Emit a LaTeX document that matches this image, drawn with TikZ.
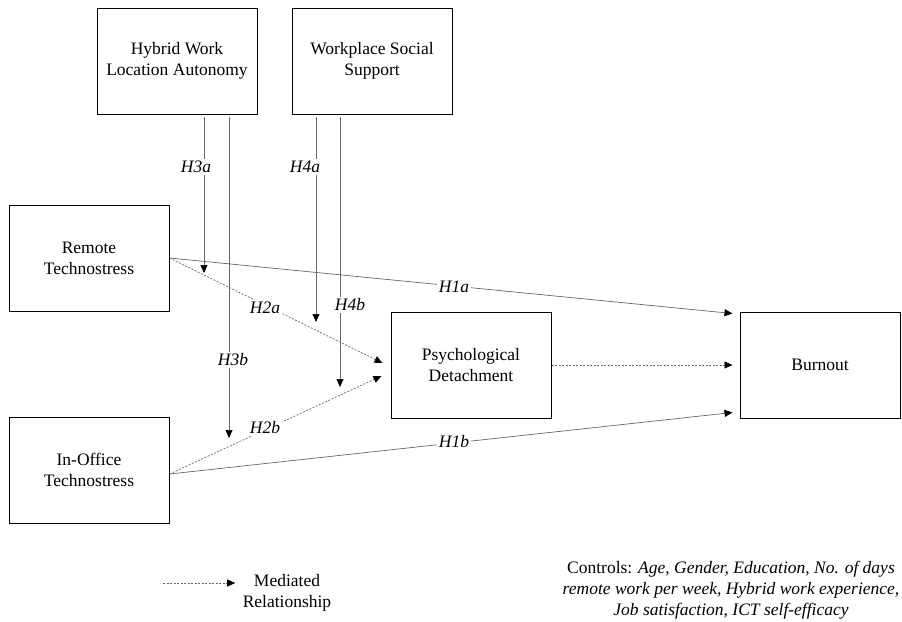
\documentclass[tikz,border=0pt]{standalone}
\usepackage{fontspec}
\setmainfont{Liberation Serif}
\usetikzlibrary{arrows.meta}
\begin{document}
\begin{tikzpicture}[x=1pt,y=-1pt,
  box/.style={draw, line width=1pt, minimum width=160pt, minimum height=106pt, align=center, font=\fontsize{17.5}{21}\selectfont},
  hyp/.style={fill=white, inner sep=2pt, font=\fontsize{17.5}{21}\selectfont\itshape},
  link/.style={draw=black!60, line width=0.7pt, -{Triangle[length=8pt,width=7pt,black]}},
  med/.style={link, dash pattern=on 2pt off 1.5pt}]
\useasboundingbox (0,0) rectangle (902,621);
\node[box] (hybrid) at (177,61) {Hybrid Work\\Location Autonomy};
\node[box] (support) at (372,61) {Workplace Social\\Support};
\node[box] (remote) at (89,258) {Remote\\Technostress};
\node[box] (office) at (89,470) {In-Office\\Technostress};
\node[box] (detach) at (471,365) {Psychological\\Detachment};
\node[box] (burnout) at (820,365) {Burnout};
\coordinate (h3a) at (204,273);
\coordinate (h3b) at (229,438);
\coordinate (h4a) at (316,322);
\coordinate (h4b) at (340,387);
\draw[link] (remote.east) -- ([xshift=-7pt,yshift=-2pt]burnout.north west);
\draw[link] ([yshift=-4pt]office.east) -- ([xshift=-7pt,yshift=6pt]burnout.south west);
\draw[med] (remote.east) -- ([xshift=-8pt,yshift=2pt]detach.west);
\draw[med] ([yshift=-4pt]office.east) -- ([xshift=-9pt,yshift=-11pt]detach.west);
\draw[med] (detach.east) -- ([xshift=-7pt]burnout.west);
\draw[link, shorten <=2pt] (hybrid.south -| h3a) -- (h3a);
\draw[link, shorten <=2pt] (hybrid.south -| h3b) -- (h3b);
\draw[link, shorten <=2pt] (support.south -| h4a) -- (h4a);
\draw[link, shorten <=2pt] (support.south -| h4b) -- (h4b);
\node[hyp] (l1a) at (454,287) {H1a};
\node[hyp] (l1b) at (454,442) {H1b};
\node[hyp] (l2a) at (265,308) {H2a};
\node[hyp] (l2b) at (265,428) {H2b};
\node[hyp] (l3a) at (196,167) {H3a};
\node[hyp] (l3b) at (233,360) {H3b};
\node[hyp] (l4a) at (305,167) {H4a};
\node[hyp] (l4b) at (350,305) {H4b};
\coordinate (lega) at (163,583);
\node[align=center, font=\fontsize{17.5}{21}\selectfont] (legend) at (287,593) {Mediated\\Relationship};
\draw[med] (lega) -- ([xshift=-4pt,yshift=10pt]legend.west);
\node[align=center, font=\fontsize{17.5}{21}\selectfont] (controls) at (731,590) {Controls: \textit{Age, Gender, Education, No. of days}\\\textit{remote work per week, Hybrid work experience,}\\\textit{Job satisfaction, ICT self-efficacy}};
\end{tikzpicture}
\end{document}
